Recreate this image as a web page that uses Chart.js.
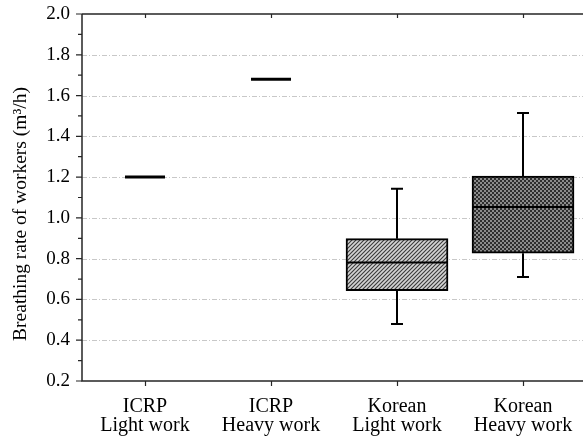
<!DOCTYPE html>
<html lang="en">
<head>
    <meta charset="UTF-8">
    <title>Breathing rate of workers</title>
    <script src="https://cdn.jsdelivr.net/npm/chart.js"></script>
    <style>
        * {
            margin: 0;
            padding: 0;
            box-sizing: border-box;
        }

        body {
            background: #ffffff;
        }

        .chart-container {
            position: relative;
            width: 583px;
            height: 438px;
        }
    </style>
</head>
<body>
    <div class="chart-container">
        <canvas id="rateChart"></canvas>
    </div>

    <script>
        const categories = [
            ['ICRP', 'Light work'],
            ['ICRP', 'Heavy work'],
            ['Korean', 'Light work'],
            ['Korean', 'Heavy work']
        ];
        // ICRP reference values (single values, categories 1 and 2)
        const icrpRates = [1.20, 1.68];
        // Korean survey box plots (categories 3 and 4)
        const koreanMin = [0.48, 0.71];
        const koreanQ1 = [0.643, 0.827];
        const koreanMedian = [0.781, 1.054];
        const koreanQ3 = [0.898, 1.205];
        const koreanMax = [1.143, 1.514];
        const yTicks = [0.2, 0.4, 0.6, 0.8, 1.0, 1.2, 1.4, 1.6, 1.8, 2.0];

        const serif = "'Liberation Serif', 'DejaVu Serif', serif";
        const boxWidth = 102;

        function makePattern(kind) {
            const c = document.createElement('canvas');
            c.width = 4;
            c.height = 4;
            const p = c.getContext('2d');
            if (kind === 'hatch') {
                p.fillStyle = '#d4d4d4';
                p.fillRect(0, 0, 4, 4);
                p.strokeStyle = '#3a3a3a';
                p.lineWidth = 1.1;
                p.beginPath();
                p.moveTo(-1, 5); p.lineTo(5, -1);
                p.moveTo(-1, 1); p.lineTo(1, -1);
                p.moveTo(3, 5); p.lineTo(5, 3);
                p.stroke();
            } else {
                p.fillStyle = '#8c8c8c';
                p.fillRect(0, 0, 4, 4);
                p.fillStyle = '#2e2e2e';
                p.fillRect(0, 0, 2, 2);
                p.fillRect(2, 2, 2, 2);
            }
            return c.getContext('2d').createPattern(c, 'repeat');
        }

        const boxPlot = {
            id: 'boxPlot',
            beforeDatasetsDraw(chart) {
                const { ctx, chartArea, scales } = chart;
                ctx.save();
                ctx.strokeStyle = '#c8c8c8';
                ctx.lineWidth = 1;
                ctx.setLineDash([5, 2, 1, 2]);
                yTicks.forEach(v => {
                    if (v <= 0.2 || v >= 2.0) return;
                    const y = Math.round(scales.y.getPixelForValue(v)) + 0.5;
                    ctx.beginPath();
                    ctx.moveTo(chartArea.left, y);
                    ctx.lineTo(chartArea.right, y);
                    ctx.stroke();
                });
                ctx.restore();
            },
            afterDatasetsDraw(chart) {
                const { ctx, chartArea, scales } = chart;
                const x = scales.x, y = scales.y;
                ctx.save();
                ctx.strokeStyle = '#000';
                ctx.lineCap = 'butt';

                // ICRP single values
                ctx.lineWidth = 3;
                icrpRates.forEach((v, i) => {
                    const cx = x.getPixelForValue(i + 1);
                    const py = y.getPixelForValue(v);
                    ctx.beginPath();
                    ctx.moveTo(cx - 20, py);
                    ctx.lineTo(cx + 20, py);
                    ctx.stroke();
                });

                // whiskers and medians
                ctx.lineWidth = 2;
                koreanMedian.forEach((m, i) => {
                    const cx = Math.round(x.getPixelForValue(i + 3));
                    const yMin = y.getPixelForValue(koreanMin[i]);
                    const yQ1 = y.getPixelForValue(koreanQ1[i]);
                    const yQ3 = y.getPixelForValue(koreanQ3[i]);
                    const yMax = y.getPixelForValue(koreanMax[i]);
                    const yMed = y.getPixelForValue(m);
                    ctx.beginPath();
                    ctx.moveTo(cx, yQ3); ctx.lineTo(cx, yMax);
                    ctx.moveTo(cx - 6, yMax); ctx.lineTo(cx + 6, yMax);
                    ctx.moveTo(cx, yQ1); ctx.lineTo(cx, yMin);
                    ctx.moveTo(cx - 6, yMin); ctx.lineTo(cx + 6, yMin);
                    ctx.moveTo(cx - boxWidth / 2, yMed); ctx.lineTo(cx + boxWidth / 2, yMed);
                    ctx.stroke();
                });

                // frame
                ctx.strokeStyle = '#262626';
                ctx.lineWidth = 1.5;
                ctx.beginPath();
                ctx.moveTo(chartArea.left, chartArea.top);
                ctx.lineTo(chartArea.right, chartArea.top);
                ctx.moveTo(chartArea.left, chartArea.top);
                ctx.lineTo(chartArea.left, chartArea.bottom);
                ctx.lineTo(chartArea.right, chartArea.bottom);
                ctx.stroke();

                // y ticks (major and minor)
                ctx.lineWidth = 1.2;
                ctx.beginPath();
                for (let k = 2; k <= 20; k++) {
                    const py = y.getPixelForValue(k / 10);
                    const len = k % 2 === 0 ? 6 : 4;
                    ctx.moveTo(chartArea.left - len, py);
                    ctx.lineTo(chartArea.left, py);
                }
                // x ticks, outward at bottom and inward at top
                categories.forEach((c, i) => {
                    const px = Math.round(x.getPixelForValue(i + 1)) + 0.5;
                    ctx.moveTo(px, chartArea.bottom);
                    ctx.lineTo(px, chartArea.bottom + 5);
                    ctx.moveTo(px, chartArea.top);
                    ctx.lineTo(px, chartArea.top + 4);
                });
                ctx.stroke();

                // y title
                ctx.fillStyle = '#000';
                ctx.font = '19.5px ' + serif;
                ctx.textAlign = 'center';
                ctx.textBaseline = 'middle';
                ctx.translate(21, 214);
                ctx.rotate(-Math.PI / 2);
                ctx.fillText('Breathing rate of workers (m\u00B3/h)', 0, 0);
                ctx.restore();
            }
        };

        const ctx = document.getElementById('rateChart').getContext('2d');
        new Chart(ctx, {
            type: 'bar',
            data: {
                datasets: [{
                    label: 'Korean',
                    data: koreanQ1.map((q, i) => ({ x: i + 3, y: [q, koreanQ3[i]] })),
                    backgroundColor: [makePattern('hatch'), makePattern('check')],
                    borderColor: '#000',
                    borderWidth: 2,
                    borderSkipped: false,
                    barThickness: boxWidth
                }]
            },
            options: {
                responsive: true,
                maintainAspectRatio: false,
                animation: false,
                layout: {
                    padding: { top: 14, right: 0, left: 0, bottom: 0 }
                },
                plugins: {
                    legend: { display: false },
                    tooltip: { enabled: false }
                },
                scales: {
                    x: {
                        type: 'linear',
                        min: 0.5,
                        max: 4.476,
                        offset: false,
                        grid: { display: false, offset: false },
                        border: { display: false },
                        afterBuildTicks: s => {
                            s.ticks = categories.map((c, i) => ({ value: i + 1 }));
                        },
                        afterFit: s => {
                            s.height = 57;
                            s.paddingLeft = 0;
                            s.paddingRight = 0;
                        },
                        ticks: {
                            autoSkip: false,
                            maxRotation: 0,
                            minRotation: 0,
                            padding: 8,
                            color: '#000',
                            font: { family: serif, size: 20, lineHeight: 0.95 },
                            callback: v => categories[v - 1] || ''
                        }
                    },
                    y: {
                        min: 0.2,
                        max: 2.0,
                        grid: { display: false, drawTicks: false },
                        border: { display: false },
                        afterBuildTicks: s => {
                            s.ticks = yTicks.map(v => ({ value: v }));
                        },
                        afterFit: s => {
                            s.width = 82;
                            s.paddingTop = 0;
                            s.paddingBottom = 0;
                        },
                        ticks: {
                            padding: 12,
                            color: '#000',
                            font: { family: serif, size: 19 },
                            callback: v => v.toFixed(1)
                        }
                    }
                }
            },
            plugins: [boxPlot]
        });
    </script>
</body>
</html>
